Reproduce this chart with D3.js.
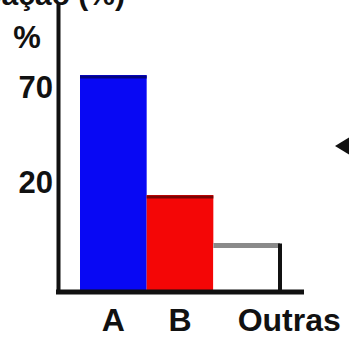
<!DOCTYPE html>
<html>
<head>
<meta charset="utf-8">
<script src="https://cdn.jsdelivr.net/npm/d3@7"></script>
<style>
  html, body { margin: 0; padding: 0; background: #ffffff; }
  svg { display: block; }
  text { font-family: "Liberation Sans", Arial, sans-serif; font-weight: bold; fill: #111; }
</style>
</head>
<body>
<svg id="chart" width="349" height="344"></svg>
<script>
// Share of each group, in percent
const categories = ["A", "B", "Outras"];
const shares = [70, 20, 10];
const yTickValues = [20, 70];
const title = "Participação (%)";
const unitLabel = "%";

const svg = d3.select("#chart");

const baseY = 292;
const axisX = 58;

const x = d3.scaleBand()
  .domain(categories)
  .range([80, 280])
  .padding(0);

// Piecewise scale: the 20–70 stretch is drawn compressed
const y = d3.scaleLinear()
  .domain([0, 20, 70, 100])
  .range([baseY, 195, 75, 3]);

const fills = { "A": "#0808f4", "B": "#f40606", "Outras": "#ffffff" };
const tops = { "A": "#040480", "B": "#7a0404", "Outras": "#8a8a8a" };

const data = categories.map((c, i) => ({ cat: c, value: shares[i] }));

// Title line running off the top edge
svg.append("text")
  .attr("x", 125)
  .attr("y", 5)
  .attr("text-anchor", "end")
  .attr("font-size", 30)
  .text(title);

// Bars
const bars = svg.append("g");
bars.selectAll("rect.bar")
  .data(data)
  .join("rect")
  .attr("class", "bar")
  .attr("x", d => x(d.cat))
  .attr("width", x.bandwidth())
  .attr("y", d => y(d.value))
  .attr("height", d => baseY - y(d.value))
  .attr("fill", d => fills[d.cat]);

// Darker edge along each bar top
bars.selectAll("line.top")
  .data(data)
  .join("line")
  .attr("class", "top")
  .attr("x1", d => x(d.cat))
  .attr("x2", d => x(d.cat) + x.bandwidth())
  .attr("y1", d => y(d.value) + 2)
  .attr("y2", d => y(d.value) + 2)
  .attr("stroke", d => tops[d.cat])
  .attr("stroke-width", d => d.cat === "Outras" ? 5 : 3);

// Right edge of the open "Outras" bar
const last = data[data.length - 1];
bars.append("line")
  .attr("x1", x(last.cat) + x.bandwidth())
  .attr("x2", x(last.cat) + x.bandwidth())
  .attr("y1", y(last.value))
  .attr("y2", baseY)
  .attr("stroke", "#111")
  .attr("stroke-width", 4);

// Y axis
const labelNudge = { 70: 11, 20: -14 };
const yAxis = svg.append("g")
  .attr("transform", `translate(${axisX},0)`)
  .call(d3.axisLeft(y).tickValues(yTickValues).tickSize(0).tickPadding(5).tickFormat(d3.format("d")));
yAxis.select(".domain").attr("stroke", "#111").attr("stroke-width", 4);
yAxis.selectAll(".tick text")
  .attr("font-size", 31)
  .attr("font-family", "Liberation Sans, Arial, sans-serif")
  .attr("font-weight", "bold")
  .attr("fill", "#111")
  .attr("dy", "0.36em")
  .attr("transform", d => `translate(0,${labelNudge[d] || 0})`);

svg.append("text")
  .attr("x", 27)
  .attr("y", 48)
  .attr("text-anchor", "middle")
  .attr("font-size", 31)
  .text(unitLabel);

// X axis
const xAxis = svg.append("g")
  .attr("transform", `translate(0,${baseY})`)
  .call(d3.axisBottom(x).tickSize(0).tickPadding(15));
xAxis.select(".domain").remove();
xAxis.append("line")
  .attr("x1", axisX - 2)
  .attr("x2", 304)
  .attr("stroke", "#111")
  .attr("stroke-width", 5);
xAxis.selectAll(".tick text")
  .attr("font-size", 32)
  .attr("font-family", "Liberation Sans, Arial, sans-serif")
  .attr("font-weight", "bold")
  .attr("fill", "#111")
  .attr("dy", "0.75em")
  .attr("text-anchor", d => d === "Outras" ? "start" : "middle")
  .attr("dx", d => d === "Outras" ? -9 : 0);

// Pointer mark at the right edge
svg.append("path")
  .attr("d", d3.line()([[335, 146], [353, 135], [353, 157]]))
  .attr("fill", "#111");
</script>
</body>
</html>
